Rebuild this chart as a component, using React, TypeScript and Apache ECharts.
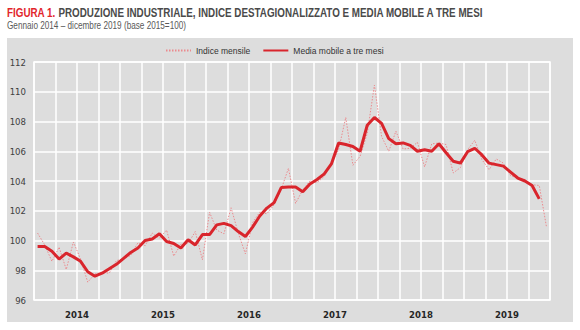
import React, { useEffect, useRef } from "react";
import * as echarts from "echarts";

const years = ["2014", "2015", "2016", "2017", "2018", "2019"];
const monthNames = ["gen", "feb", "mar", "apr", "mag", "giu", "lug", "ago", "set", "ott", "nov", "dic"];
const months: string[] = [];
years.forEach((y) => monthNames.forEach((m) => months.push(`${m} ${y}`)));

// Indice mensile (destagionalizzato), gen 2014 - dic 2019
const indiceMensile = [
  100.5, 99.7, 98.6, 99.55, 98.05, 99.9, 98.75, 97.2, 97.75, 97.85, 97.8, 98.65,
  98.75, 99.0, 99.85, 99.65, 100.5, 100.15, 100.7, 98.95, 99.75, 99.8, 100.6, 98.7,
  101.9, 100.7, 100.45, 102.2, 100.5, 99.1, 101.2, 101.9, 101.8, 102.4, 103.45, 104.85,
  102.5, 103.4, 104.0, 103.9, 104.3, 105.2, 106.1, 108.27, 105.06, 105.66, 107.2, 110.45,
  107.0, 106.0, 107.35, 106.15, 106.2, 106.6, 104.95, 106.5, 106.55, 106.45, 104.54, 104.9,
  106.1, 106.74, 105.44, 104.76, 105.48, 105.2, 104.36, 104.2, 104.1, 103.75, 103.7, 100.94,
];

// Media mobile a tre mesi (centrata)
const mediaMobile = [
  99.6, 99.6, 99.28, 98.75, 99.15, 98.9, 98.6, 97.9, 97.6, 97.8, 98.1, 98.4,
  98.8, 99.2, 99.5, 100.0, 100.1, 100.45, 99.93, 99.8, 99.5, 100.05, 99.7, 100.4,
  100.4, 101.05, 101.15, 101.0, 100.6, 100.27, 100.9, 101.65, 102.18, 102.55, 103.56, 103.6,
  103.6, 103.27, 103.8, 104.1, 104.48, 105.15, 106.55, 106.45, 106.32, 106.0, 107.75, 108.27,
  107.87, 106.85, 106.5, 106.56, 106.4, 106.0, 106.1, 106.0, 106.5, 105.9, 105.33, 105.2,
  105.97, 106.2, 105.75, 105.2, 105.1, 105.0, 104.6, 104.2, 104.0, 103.7, 102.8, null,
];

const SANS = "'Liberation Sans', Arial, sans-serif";
const NARROW = "'DejaVu Sans Condensed', 'Liberation Sans', sans-serif";

export default function App() {
  const ref = useRef<HTMLDivElement>(null);
  useEffect(() => {
    if (!ref.current) return;
    const chart = echarts.init(ref.current, undefined, { renderer: "svg" });
    chart.setOption({
      animation: false,
      backgroundColor: "#ffffff",
      graphic: [
        {
          type: "rect",
          z: -10,
          silent: true,
          shape: { x: 7, y: 38, width: 566, height: 284 },
          style: { fill: "#dddddd" },
        },
        {
          type: "text",
          x: 7,
          y: 7,
          scaleX: 0.82,
          style: {
            text: "{a|FIGURA 1.} {b|PRODUZIONE INDUSTRIALE, INDICE DESTAGIONALIZZATO E MEDIA MOBILE A TRE MESI}",
            verticalAlign: "top",
            rich: {
              a: { fontFamily: SANS, fontSize: 12, fontWeight: "bold", fill: "#e2252b" },
              b: { fontFamily: SANS, fontSize: 12, fontWeight: "bold", fill: "#4a4a4a" },
            },
          },
        },
        {
          type: "text",
          x: 7,
          y: 21,
          scaleX: 0.82,
          style: {
            text: "Gennaio 2014 – dicembre 2019 (base 2015=100)",
            verticalAlign: "top",
            fontFamily: SANS,
            fontSize: 10,
            fill: "#595959",
          },
        },
      ],
      legend: {
        top: 41,
        left: 160,
        itemWidth: 25,
        itemHeight: 8,
        itemGap: 12,
        itemStyle: { opacity: 0 },
        textStyle: { fontFamily: SANS, fontSize: 8.5, color: "#333333" },
        data: ["Indice mensile", "Media mobile a tre mesi"],
      },
      grid: {
        left: 34,
        right: 30,
        top: 62,
        bottom: 30,
        show: true,
        borderColor: "#ffffff",
        borderWidth: 1.5,
        backgroundColor: "transparent",
      },
      xAxis: [
        {
          type: "category",
          data: months,
          boundaryGap: true,
          axisLine: { show: false },
          axisTick: { show: false },
          axisLabel: { show: false },
          splitLine: {
            show: true,
            interval: 2,
            lineStyle: { color: "#ffffff", width: 1.5 },
          },
        },
        {
          type: "category",
          data: years,
          position: "bottom",
          boundaryGap: true,
          axisLine: { show: false },
          axisTick: { show: false },
          splitLine: { show: false },
          axisLabel: {
            fontFamily: NARROW,
            fontSize: 9.5,
            fontWeight: "bold",
            color: "#262626",
            margin: 9,
          },
        },
      ],
      yAxis: {
        type: "value",
        min: 96,
        max: 112,
        interval: 2,
        axisLine: { show: false },
        axisTick: { show: false },
        axisLabel: { fontFamily: NARROW, fontSize: 9.5, color: "#404040", margin: 8 },
        splitLine: { show: true, lineStyle: { color: "#ffffff", width: 1.5 } },
      },
      series: [
        {
          name: "Indice mensile",
          type: "line",
          xAxisIndex: 0,
          data: indiceMensile,
          symbol: "none",
          showSymbol: false,
          lineStyle: { color: "#eb8a8e", width: 1, type: [1.5, 1.5] },
          itemStyle: { color: "#eb8a8e" },
          z: 2,
        },
        {
          name: "Media mobile a tre mesi",
          type: "line",
          xAxisIndex: 0,
          data: mediaMobile,
          symbol: "none",
          showSymbol: false,
          lineStyle: { color: "#d9252c", width: 3 },
          itemStyle: { color: "#d9252c" },
          z: 3,
        },
      ],
    });
    return () => chart.dispose();
  }, []);
  return (
    <div
      ref={ref}
      style={{ position: "fixed", left: 0, top: 0, width: 580, height: 330 }}
    />
  );
}
